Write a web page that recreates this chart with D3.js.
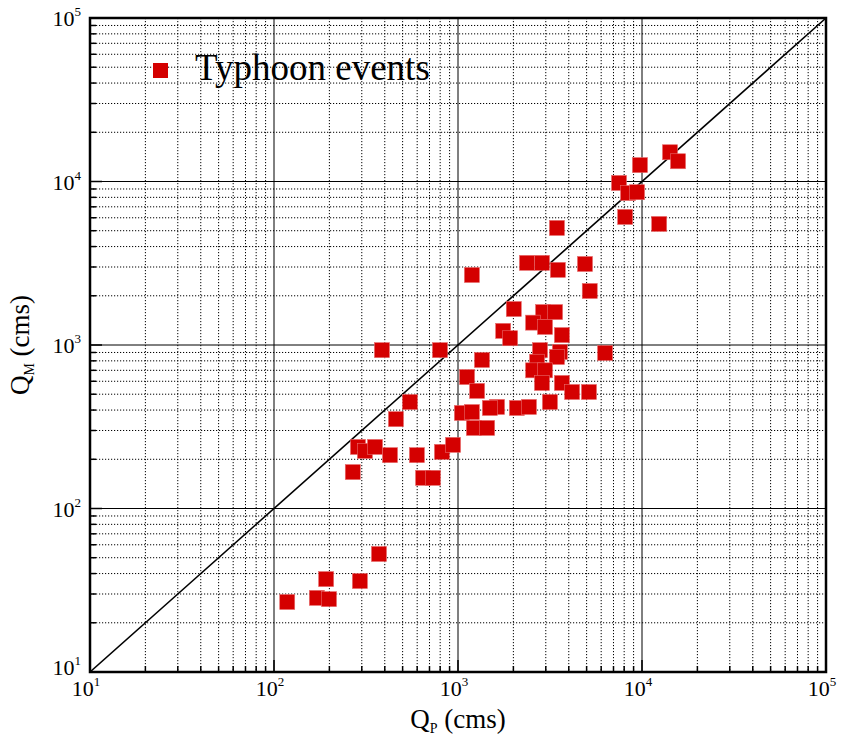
<!DOCTYPE html>
<html lang="en">
<head>
  <meta charset="UTF-8">
  <title>Typhoon events – Q_P vs Q_M</title>
  <script src="https://d3js.org/d3.v7.min.js"></script>
  <style>
    body { margin: 0; background: #fff; }
    text { font-family: "Liberation Serif", "Times New Roman", serif; fill: #000; }
  </style>
</head>
<body>
  <svg id="chart" width="842" height="737"></svg>

  <script>
    // peak discharge (cms)
    const qp = [14200, 15700, 9750, 7500, 8400, 9400, 8100, 12400,
                3450, 2370, 2860, 3490, 4900, 5200, 1190,
                2010, 2900, 3370, 2560, 2970, 3670, 1760, 1920,
                2790, 3580, 3450, 2690, 2560, 2970, 2860, 3670,
                4170, 5150, 3160, 1630, 2090, 2430, 6300,
                386, 798, 1350, 1120, 1270, 1050, 1190, 1490,
                548, 460, 286, 312, 354, 427, 598, 268,
                646, 731, 818, 940, 1220, 1440,
                118, 171, 192, 199, 293, 372];
    const qm = [15100, 13300, 12600, 9800, 8500, 8600, 6070, 5500,
                5200, 3180, 3180, 2880, 3130, 2140, 2680,
                1660, 1590, 1590, 1370, 1290, 1150, 1220, 1100,
                930, 905, 845, 790, 700, 700, 586, 586,
                516, 516, 448, 418, 412, 418, 894,
                930, 930, 810, 637, 524, 384, 389, 412,
                448, 352, 238, 225, 238, 212, 212, 167,
                154, 154, 222, 245, 311, 311,
                26.8, 28.4, 37, 27.9, 36, 52.7];

    // decade exponents used as tick labels
    const exponents = [1, 2, 3, 4, 5];
    const legendLabel = "Typhoon events";

    const svg = d3.select("#chart");
    const pLeft = 90, pRight = 826, pTop = 18, pBottom = 672;

    const x = d3.scaleLog().domain([10, 1e5]).range([pLeft, pRight]);
    const y = d3.scaleLog().domain([10, 1e5]).range([pBottom, pTop]);

    const majors = exponents.map(e => Math.pow(10, e));
    const minors = [];
    exponents.slice(0, -1).forEach(e => {
      for (let m = 2; m <= 9; m++) minors.push(m * Math.pow(10, e));
    });

    // grid: dotted minors, solid majors
    const grid = svg.append("g");
    grid.selectAll(".vmin").data(minors).join("line")
      .attr("x1", d => x(d)).attr("x2", d => x(d))
      .attr("y1", pTop).attr("y2", pBottom)
      .attr("stroke", "#000").attr("stroke-width", 1)
      .attr("stroke-dasharray", "1.2,1.8");
    grid.selectAll(".hmin").data(minors).join("line")
      .attr("y1", d => y(d)).attr("y2", d => y(d))
      .attr("x1", pLeft).attr("x2", pRight)
      .attr("stroke", "#000").attr("stroke-width", 1)
      .attr("stroke-dasharray", "1.2,1.8");
    grid.selectAll(".vmaj").data(majors).join("line")
      .attr("x1", d => x(d)).attr("x2", d => x(d))
      .attr("y1", pTop).attr("y2", pBottom)
      .attr("stroke", "#000").attr("stroke-width", 1);
    grid.selectAll(".hmaj").data(majors).join("line")
      .attr("y1", d => y(d)).attr("y2", d => y(d))
      .attr("x1", pLeft).attr("x2", pRight)
      .attr("stroke", "#000").attr("stroke-width", 1);

    // inward ticks on bottom and left
    const ticks = svg.append("g").attr("stroke", "#000").attr("stroke-width", 1.5);
    ticks.selectAll(".xt").data(majors.concat(minors)).join("line")
      .attr("x1", d => x(d)).attr("x2", d => x(d))
      .attr("y1", pBottom).attr("y2", d => pBottom - (majors.includes(d) ? 12 : 6));
    ticks.selectAll(".yt").data(majors.concat(minors)).join("line")
      .attr("y1", d => y(d)).attr("y2", d => y(d))
      .attr("x1", pLeft).attr("x2", d => pLeft + (majors.includes(d) ? 12 : 6));

    // 1:1 line
    svg.append("line")
      .attr("x1", x(10)).attr("y1", y(10))
      .attr("x2", x(1e5)).attr("y2", y(1e5))
      .attr("stroke", "#000").attr("stroke-width", 1.6);

    // points
    const pts = qp.map((d, i) => ({ qp: d, qm: qm[i] }));
    const s = 15;
    svg.append("g").selectAll("rect").data(pts).join("rect")
      .attr("x", d => x(d.qp) - s / 2)
      .attr("y", d => y(d.qm) - s / 2)
      .attr("width", s).attr("height", s)
      .attr("fill", "#d40000")
      .attr("stroke", "#e86a6a").attr("stroke-width", 0.6);

    // frame
    svg.append("rect")
      .attr("x", pLeft).attr("y", pTop)
      .attr("width", pRight - pLeft).attr("height", pBottom - pTop)
      .attr("fill", "none").attr("stroke", "#000").attr("stroke-width", 2.5);

    // tick labels 10^n
    const xl = svg.append("g").selectAll("text").data(exponents).join("text")
      .attr("x", d => x(Math.pow(10, d)) - 4)
      .attr("y", pBottom + 24)
      .attr("text-anchor", "middle")
      .style("font-size", "22px");
    xl.append("tspan").text("10");
    xl.append("tspan").text(d => d).attr("dy", -10).style("font-size", "13px");

    const yl = svg.append("g").selectAll("text").data(exponents).join("text")
      .attr("x", pLeft - 9)
      .attr("y", d => y(Math.pow(10, d)) + (d === 1 ? 3 : 8))
      .attr("text-anchor", "end")
      .style("font-size", "22px");
    yl.append("tspan").text("10");
    yl.append("tspan").text(d => d).attr("dy", -10).style("font-size", "13px");

    // axis titles
    const xt = svg.append("text")
      .attr("x", 458).attr("y", 728)
      .attr("text-anchor", "middle")
      .style("font-size", "27px");
    xt.append("tspan").text("Q");
    xt.append("tspan").text("P").attr("dy", 5).style("font-size", "14px");
    xt.append("tspan").text(" (cms)").attr("dy", -5);

    const yt = svg.append("text")
      .attr("transform", `translate(29,${(pTop + pBottom) / 2}) rotate(-90)`)
      .attr("text-anchor", "middle")
      .style("font-size", "27px");
    yt.append("tspan").text("Q");
    yt.append("tspan").text("M").attr("dy", 5).style("font-size", "14px");
    yt.append("tspan").text(" (cms)").attr("dy", -5);

    // legend
    svg.append("rect")
      .attr("x", 153).attr("y", 63).attr("width", s).attr("height", s)
      .attr("fill", "#d40000");
    svg.append("text")
      .attr("x", 195).attr("y", 80)
      .style("font-size", "37px")
      .text(legendLabel);
  </script>
</body>
</html>
